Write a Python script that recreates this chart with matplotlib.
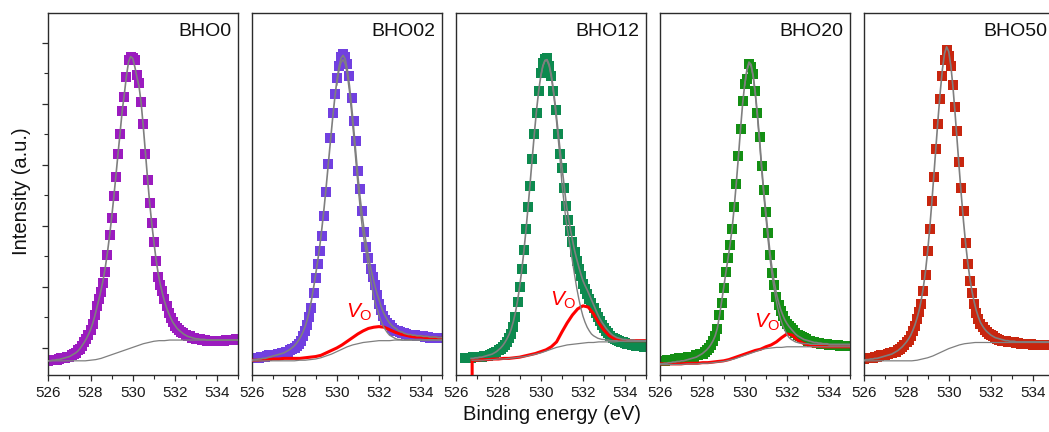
import numpy as np
import matplotlib
matplotlib.use('Agg')
import matplotlib.pyplot as plt
from matplotlib.ticker import MultipleLocator

plt.rcParams['font.family'] = ['Liberation Sans', 'DejaVu Sans']
plt.rcParams['mathtext.fontset'] = 'custom'
plt.rcParams['mathtext.it'] = 'Liberation Sans:italic'
plt.rcParams['mathtext.rm'] = 'Liberation Sans'

nan = float('nan')

# energy axes (eV)
ENERGY = np.round(np.arange(526.0, 535.05, 0.1), 2)      # measured points, 0.1 eV step
FIT_E = np.round(np.arange(526.0, 535.01, 0.25), 2)      # background / Vo component grid
MAIN_E = np.round(np.arange(530.0, 535.05, 0.1), 2)      # main lattice-O component (right part)

SAMPLES = ['BHO0', 'BHO02', 'BHO12', 'BHO20', 'BHO50']
COLORS = ['#9B1BBF', '#7140E0', '#0D8A4F', '#148F14', '#C8260F']

# ---------------- BHO0 ----------------
P1_DATA = [-0.21, -0.20, -0.20, -0.19, -0.19, -0.18, -0.17, -0.16, -0.16, -0.15,
           -0.14, -0.12, -0.10, -0.08, -0.04, -0.01, 0.04, 0.09, 0.15, 0.21,
           0.29, 0.40, 0.54, 0.68, 0.81, 0.91, 1.07, 1.25, 1.52, 1.85,
           2.12, 2.48, 2.80, 3.18, 3.50, 3.88, 4.11, 4.43, 4.71, 4.76,
           4.74, 4.71, 4.47, 4.33, 4.02, 3.66, 3.17, 2.75, 2.37, 2.05,
           1.73, 1.42, 1.17, 1.03, 0.93, 0.80, 0.68, 0.58, 0.49, 0.42,
           0.36, 0.32, 0.29, 0.26, 0.24, 0.21, 0.20, 0.19, 0.17, 0.16,
           0.15, 0.14, 0.14, 0.13, 0.13, 0.12, 0.12, 0.12, 0.12, 0.12,
           0.12, 0.12, 0.12, 0.12, 0.13, 0.13, 0.13, 0.13, 0.13, 0.14,
           0.14]
P1_ENV = [-0.21, -0.21, -0.20, -0.20, -0.19, -0.19, -0.18, -0.17, -0.16, -0.15,
          -0.14, -0.12, -0.10, -0.08, -0.05, -0.01, 0.04, 0.09, 0.15, 0.22,
          0.30, 0.40, 0.52, 0.66, 0.80, 0.95, 1.12, 1.32, 1.56, 1.83,
          2.13, 2.46, 2.81, 3.17, 3.52, 3.88, 4.15, 4.45, 4.68, 4.77,
          4.74, 4.60, 4.43, 4.28, 4.00, 3.62, 3.20, 2.78, 2.38, 2.04,
          1.74, 1.46, 1.23, 1.05, 0.90, 0.77, 0.66, 0.57, 0.49, 0.42,
          0.37, 0.32, 0.29, 0.26, 0.23, 0.21, 0.19, 0.18, 0.17, 0.16,
          0.15, 0.15, 0.14, 0.14, 0.14, 0.13, 0.13, 0.13, 0.13, 0.13,
          0.13, 0.13, 0.13, 0.13, 0.13, 0.13, 0.13, 0.13, 0.13, 0.13,
          0.13]
P1_BG = [-0.21, -0.21, -0.21, -0.21, -0.21, -0.21, -0.21, -0.21,
         -0.20, -0.19, -0.17, -0.14, -0.11, -0.08, -0.05, -0.02, 0.01, 0.04,
         0.07, 0.09, 0.11, 0.12, 0.12, 0.13, 0.13,
         0.13, 0.13, 0.13, 0.13, 0.13, 0.13, 0.13, 0.13, 0.13, 0.13, 0.13, 0.13]

# ---------------- BHO02 ----------------
P2_DATA = [-0.17, -0.17, -0.16, -0.16, -0.15, -0.15, -0.14, -0.13, -0.12, -0.12,
           -0.11, -0.11, -0.10, -0.10, -0.09, -0.08, -0.07, -0.06, -0.04, -0.02,
           0.00, 0.03, 0.07, 0.12, 0.19, 0.27, 0.37, 0.50, 0.66, 0.90,
           1.15, 1.38, 1.59, 1.84, 2.16, 2.56, 3.01, 3.43, 3.84, 4.15,
           4.42, 4.62, 4.76, 4.82, 4.76, 4.65, 4.45, 4.10, 3.72, 3.38,
           2.90, 2.60, 2.25, 1.90, 1.66, 1.47, 1.30, 1.16, 1.03, 0.87,
           0.72, 0.62, 0.53, 0.46, 0.41, 0.37, 0.33, 0.30, 0.28, 0.27,
           0.26, 0.25, 0.24, 0.23, 0.22, 0.22, 0.21, 0.21, 0.20, 0.20,
           0.19, 0.19, 0.18, 0.18, 0.17, 0.17, 0.16, 0.16, 0.16, 0.16,
           0.16]
P2_ENV = [-0.20, -0.19, -0.19, -0.18, -0.18, -0.17, -0.17, -0.16, -0.15, -0.14,
          -0.13, -0.12, -0.11, -0.10, -0.09, -0.08, -0.06, -0.04, -0.02, 0.01,
          0.04, 0.08, 0.13, 0.19, 0.26, 0.35, 0.46, 0.60, 0.78, 0.98,
          1.20, 1.43, 1.68, 1.97, 2.29, 2.64, 3.01, 3.38, 3.74, 4.07,
          4.36, 4.59, 4.74, 4.79, 4.73, 4.56, 4.30, 3.97, 3.60, 3.21,
          2.82, 2.48, 2.18, 1.92, 1.70, 1.50, 1.32, 1.17, 1.03, 0.90,
          0.79, 0.68, 0.59, 0.52, 0.46, 0.41, 0.37, 0.34, 0.32, 0.29,
          0.27, 0.26, 0.24, 0.23, 0.22, 0.22, 0.21, 0.21, 0.20, 0.20,
          0.20, 0.19, 0.19, 0.19, 0.18, 0.18, 0.18, 0.18, 0.17, 0.17,
          0.17]
P2_MAIN = [4.30, 4.53, 4.67, 4.72, 4.65, 4.47, 4.20, 3.86, 3.48, 3.08,
           2.68, 2.32, 2.00, 1.75, 1.55, 1.34, 1.13, 0.93, 0.77, 0.65,
           0.54, 0.44, 0.36, 0.30, 0.25, 0.21, 0.19, 0.17, 0.15, 0.14,
           0.14, 0.13, 0.13, 0.13, 0.13, 0.13, 0.13, 0.13, 0.13, 0.13,
           0.13, 0.13, 0.13, 0.13, 0.13, 0.13, 0.13, 0.13, 0.13, 0.13,
           0.13]
P2_BG = [-0.21, -0.21, -0.21, -0.21, -0.21, -0.21, -0.21, -0.21, -0.21,
         -0.20, -0.20, -0.19, -0.18, -0.16, -0.13, -0.10, -0.06, -0.02, 0.02,
         0.05, 0.07, 0.09, 0.10, 0.11, 0.12,
         0.12, 0.12, 0.13, 0.13, 0.13, 0.13, 0.13, 0.13, 0.13, 0.13, 0.13, 0.13]
P2_VO = [-0.20, -0.20, -0.19, -0.19, -0.18, -0.18, -0.17, -0.17, -0.17, -0.17,
         -0.16, -0.15, -0.14, -0.12, -0.08, -0.04, 0.00, 0.05, 0.11, 0.17,
         0.23, 0.28, 0.32, 0.34, 0.35, 0.34, 0.30, 0.26, 0.23, 0.21,
         0.19, 0.18, 0.18, 0.17, 0.17, 0.16, 0.16]

# ---------------- BHO12 ----------------
P3_DATA = [nan, nan, nan, nan, -0.17, -0.17, -0.16, -0.16, -0.15, -0.15,
           -0.14, -0.14, -0.14, -0.13, -0.13, -0.13, -0.12, -0.10, -0.08, -0.06,
           -0.04, -0.01, 0.02, 0.05, 0.10, 0.16, 0.23, 0.34, 0.50, 0.75,
           1.00, 1.30, 1.60, 1.95, 2.30, 2.65, 3.10, 3.50, 3.85, 4.20,
           4.50, 4.67, 4.73, 4.74, 4.62, 4.45, 4.20, 3.90, 3.50, 3.18,
           2.95, 2.62, 2.32, 2.10, 1.92, 1.74, 1.57, 1.43, 1.30, 1.18,
           1.05, 0.97, 0.89, 0.81, 0.73, 0.65, 0.58, 0.51, 0.44, 0.38,
           0.33, 0.28, 0.24, 0.20, 0.17, 0.15, 0.13, 0.11, 0.10, 0.09,
           0.08, 0.07, 0.06, 0.05, 0.05, 0.04, 0.04, 0.03, 0.03, 0.02,
           0.02]
P3_ENV = [nan, nan, nan, nan, nan, nan, nan, -0.17, -0.17, -0.16,
          -0.16, -0.15, -0.15, -0.14, -0.13, -0.12, -0.11, -0.10, -0.08, -0.06,
          -0.03, 0.00, 0.04, 0.09, 0.15, 0.22, 0.31, 0.43, 0.58, 0.77,
          1.00, 1.27, 1.58, 1.93, 2.31, 2.71, 3.12, 3.52, 3.89, 4.20,
          4.45, 4.62, 4.71, 4.72, 4.64, 4.47, 4.23, 3.94, 3.61, 3.29,
          2.98, 2.68, 2.38, 2.15, 1.95, 1.77, 1.60, 1.46, 1.33, 1.21,
          1.10, 1.02, 0.95, 0.87, 0.79, 0.71, 0.63, 0.55, 0.48, 0.42,
          0.37, 0.32, 0.28, 0.24, 0.21, 0.19, 0.17, 0.16, 0.15, 0.14,
          0.14, 0.13, 0.13, 0.13, 0.13, 0.12, 0.12, 0.12, 0.12, 0.12,
          0.12]
P3_MAIN = [4.44, 4.61, 4.70, 4.70, 4.61, 4.43, 4.18, 3.87, 3.52, 3.16,
           2.70, 2.38, 2.08, 1.86, 1.64, 1.42, 1.20, 0.99, 0.81, 0.65,
           0.52, 0.42, 0.34, 0.28, 0.23, 0.20, 0.18, 0.16, 0.15, 0.14,
           0.14, 0.13, 0.13, 0.12, 0.12, 0.12, 0.12, 0.11, 0.11, 0.11,
           0.11, 0.11, 0.11, 0.11, 0.11, 0.11, 0.11, 0.11, 0.11, 0.11,
           0.11]
P3_BG = [nan, nan, nan,
         -0.20, -0.20, -0.20, -0.19, -0.19, -0.18, -0.18, -0.17, -0.16, -0.15,
         -0.14, -0.12, -0.10, -0.08, -0.05, -0.02, 0.01, 0.03, 0.05, 0.06,
         0.07, 0.08, 0.09, 0.09, 0.10, 0.10, 0.10, 0.10, 0.11, 0.11,
         0.11, 0.11, 0.11, 0.11]
# the Vo curve of this sample starts with a drop at its first energy
P3_VO_E = [526.75, 526.75, 527.0, 527.25, 527.5, 527.75, 528.0, 528.25, 528.5, 528.75,
           529.0, 529.25, 529.5, 529.75, 530.0, 530.25, 530.5, 530.75, 531.0, 531.25,
           531.5, 531.75, 532.0, 532.25, 532.5, 532.75, 533.0, 533.25, 533.5, 533.75,
           534.0, 534.25, 534.5, 534.75, 535.0]
P3_VO = [-0.60, -0.20, -0.20, -0.19, -0.19, -0.18, -0.18, -0.17, -0.17, -0.16,
         -0.15, -0.13, -0.11, -0.09, -0.06, -0.03, 0.02, 0.10, 0.26, 0.41,
         0.54, 0.64, 0.69, 0.67, 0.56, 0.41, 0.29, 0.20, 0.15, 0.13,
         0.12, 0.12, 0.12, 0.12, 0.12]

# ---------------- BHO20 ----------------
P4_DATA = [-0.22, -0.21, -0.21, -0.20, -0.20, -0.19, -0.19, -0.18, -0.18, -0.17,
           -0.17, -0.16, -0.16, -0.15, -0.15, -0.14, -0.14, -0.12, -0.11, -0.10,
           -0.10, -0.06, -0.03, 0.00, 0.05, 0.11, 0.20, 0.31, 0.54, 0.74,
           0.98, 1.25, 1.48, 1.68, 1.95, 2.30, 2.68, 3.15, 3.58, 4.05,
           4.32, 4.41, 4.65, 4.60, 4.48, 4.20, 3.85, 3.45, 2.98, 2.58,
           2.22, 1.88, 1.53, 1.22, 1.03, 0.84, 0.70, 0.60, 0.52, 0.45,
           0.40, 0.36, 0.33, 0.29, 0.25, 0.22, 0.20, 0.18, 0.16, 0.14,
           0.12, 0.11, 0.10, 0.09, 0.08, 0.08, 0.07, 0.07, 0.06, 0.06,
           0.05, 0.05, 0.05, 0.05, 0.05, 0.04, 0.04, 0.04, 0.04, 0.04,
           0.04]
P4_ENV = [-0.26, -0.26, -0.25, -0.25, -0.24, -0.24, -0.23, -0.23, -0.22, -0.22,
          -0.21, -0.21, -0.20, -0.19, -0.18, -0.17, -0.16, -0.15, -0.13, -0.11,
          -0.09, -0.06, -0.03, 0.01, 0.06, 0.12, 0.20, 0.32, 0.52, 0.75,
          0.98, 1.22, 1.45, 1.68, 1.95, 2.30, 2.70, 3.13, 3.58, 4.00,
          4.32, 4.55, 4.68, 4.64, 4.46, 4.18, 3.83, 3.43, 2.98, 2.57,
          2.23, 1.88, 1.55, 1.28, 1.07, 0.89, 0.75, 0.63, 0.54, 0.46,
          0.40, 0.35, 0.31, 0.27, 0.23, 0.20, 0.18, 0.16, 0.14, 0.13,
          0.12, 0.11, 0.10, 0.09, 0.09, 0.08, 0.08, 0.07, 0.07, 0.07,
          0.06, 0.06, 0.06, 0.06, 0.06, 0.06, 0.06, 0.06, 0.06, 0.06,
          0.06]
P4_MAIN = [4.30, 4.53, 4.66, 4.61, 4.43, 4.14, 3.78, 3.37, 2.92, 2.50,
           2.14, 1.78, 1.45, 1.17, 0.95, 0.76, 0.60, 0.47, 0.37, 0.29,
           0.22, 0.17, 0.14, 0.12, 0.10, 0.09, 0.08, 0.08, 0.07, 0.07,
           0.07, 0.06, 0.06, 0.06, 0.06, 0.06, 0.06, 0.06, 0.06, 0.06,
           0.05, 0.05, 0.05, 0.05, 0.05, 0.05, 0.05, 0.05, 0.05, 0.05,
           0.05]
P4_BG = [-0.27, -0.27, -0.27, -0.27, -0.27, -0.26, -0.26, -0.26, -0.25, -0.25,
         -0.24, -0.23, -0.22, -0.20, -0.18, -0.15, -0.12, -0.09, -0.06, -0.03,
         -0.01, 0.00, 0.01, 0.01, 0.02, 0.02, 0.02, 0.02, 0.02, 0.02,
         0.02, 0.02, 0.02, 0.02, 0.02, 0.02, 0.02]
P4_VO = [-0.26, -0.26, -0.26, -0.26, -0.26, -0.25, -0.25, -0.25, -0.24, -0.24,
         -0.23, -0.22, -0.21, -0.19, -0.16, -0.13, -0.10, -0.07, -0.04, -0.02,
         0.02, 0.05, 0.10, 0.17, 0.23, 0.21, 0.13, 0.08, 0.05, 0.03,
         0.03, 0.02, 0.02, 0.02, 0.02, 0.02, 0.02]

# ---------------- BHO50 ----------------
P5_DATA = [-0.18, -0.17, -0.17, -0.16, -0.16, -0.15, -0.14, -0.13, -0.12, -0.11,
           -0.11, -0.10, -0.09, -0.08, -0.07, -0.06, -0.03, -0.01, 0.02, 0.05,
           0.09, 0.13, 0.19, 0.27, 0.36, 0.47, 0.59, 0.72, 0.94, 1.20,
           1.58, 1.95, 2.40, 2.80, 3.25, 3.66, 4.08, 4.45, 4.72, 4.88,
           4.78, 4.62, 4.30, 3.95, 3.55, 3.05, 2.62, 2.25, 1.72, 1.37,
           1.09, 0.90, 0.72, 0.58, 0.48, 0.40, 0.34, 0.30, 0.26, 0.23,
           0.21, 0.19, 0.17, 0.15, 0.13, 0.12, 0.11, 0.11, 0.10, 0.10,
           0.09, 0.09, 0.08, 0.08, 0.07, 0.07, 0.07, 0.06, 0.06, 0.06,
           0.05, 0.05, 0.05, 0.05, 0.05, 0.05, 0.05, 0.05, 0.05, 0.05,
           0.05]
P5_ENV = [-0.20, -0.19, -0.19, -0.18, -0.18, -0.17, -0.17, -0.16, -0.15, -0.14,
          -0.13, -0.12, -0.11, -0.10, -0.08, -0.06, -0.04, -0.01, 0.02, 0.06,
          0.10, 0.15, 0.21, 0.29, 0.38, 0.49, 0.62, 0.79, 1.00, 1.26,
          1.58, 1.96, 2.39, 2.85, 3.32, 3.78, 4.20, 4.56, 4.82, 4.93,
          4.85, 4.62, 4.27, 3.84, 3.38, 2.92, 2.48, 2.07, 1.71, 1.40,
          1.14, 0.93, 0.76, 0.62, 0.51, 0.42, 0.36, 0.31, 0.27, 0.24,
          0.21, 0.19, 0.17, 0.16, 0.15, 0.14, 0.13, 0.12, 0.12, 0.11,
          0.11, 0.11, 0.10, 0.10, 0.10, 0.10, 0.10, 0.10, 0.10, 0.10,
          0.10, 0.10, 0.10, 0.10, 0.10, 0.10, 0.10, 0.10, 0.10, 0.10,
          0.10]
P5_BG = [-0.21, -0.21, -0.21, -0.21, -0.21, -0.21, -0.21, -0.21, -0.21, -0.21,
         -0.20, -0.18, -0.16, -0.13, -0.09, -0.05, -0.01, 0.02, 0.05, 0.07,
         0.08, 0.09, 0.09, 0.09, 0.09,
         0.09, 0.09, 0.09, 0.09, 0.09, 0.09, 0.09, 0.09, 0.09, 0.09, 0.09, 0.09]

DATA = [P1_DATA, P2_DATA, P3_DATA, P4_DATA, P5_DATA]
ENV = [P1_ENV, P2_ENV, P3_ENV, P4_ENV, P5_ENV]
BG = [P1_BG, P2_BG, P3_BG, P4_BG, P5_BG]
MAIN = [None, P2_MAIN, P3_MAIN, P4_MAIN, None]
VO = [None, (FIT_E, P2_VO), (P3_VO_E, P3_VO), (FIT_E, P4_VO), None]
VO_LABEL_Y = [None, 0.49, 0.70, 0.33, None]

# ---------------- figure ----------------
W, H = 1049, 432
fig = plt.figure(figsize=(W / 100, H / 100), dpi=100)
GRAY = '#7F7F7F'
SPINE = '#2B2B2B'

for i in range(5):
    left_px = 48.3 + 204.0 * i
    ax = fig.add_axes([left_px / W, 57.0 / H, 190.0 / W, 362.3 / H])
    ax.plot(ENERGY, DATA[i], linestyle='none', marker='s', ms=6.6, mew=0,
            color=COLORS[i], zorder=2)
    if VO[i] is not None:
        ve, vv = VO[i]
        ax.plot(ve, vv, color='#FF0000', lw=2.2, zorder=3, solid_joinstyle='round')
    ax.plot(FIT_E, BG[i], color=GRAY, lw=0.9, zorder=4)
    if MAIN[i] is not None:
        ax.plot(MAIN_E, MAIN[i], color=GRAY, lw=1.0, zorder=4)
    ax.plot(ENERGY, ENV[i], color=GRAY, lw=1.2, zorder=5)
    if VO_LABEL_Y[i] is not None:
        ax.text(530.46, VO_LABEL_Y[i], r'$V_{\mathrm{O}}$', color='#FF0000',
                fontsize=15, ha='left', va='baseline', zorder=6)
    ax.text(0.962, 0.936, SAMPLES[i], transform=ax.transAxes, ha='right',
            va='baseline', fontsize=14, color='#111111')

    ax.set_xlim(526, 535)
    ax.set_ylim(-0.442, 5.488)
    ax.xaxis.set_major_locator(MultipleLocator(2))
    ax.xaxis.set_minor_locator(MultipleLocator(1))
    ax.tick_params(axis='x', which='major', direction='out', length=4.5, width=0.9,
                   pad=3.5, labelsize=11, color=SPINE, labelcolor='#1A1A1A')
    ax.tick_params(axis='x', which='minor', direction='out', length=2.6, width=0.8,
                   color=SPINE)
    if i == 0:
        ax.yaxis.set_major_locator(MultipleLocator(1))
        ax.yaxis.set_minor_locator(MultipleLocator(0.5))
        ax.tick_params(axis='y', which='major', direction='out', length=4.5,
                       width=0.9, color=SPINE, labelleft=False)
        ax.tick_params(axis='y', which='minor', direction='out', length=2.6,
                       width=0.8, color=SPINE)
    else:
        ax.set_yticks([])
        ax.yaxis.set_minor_locator(matplotlib.ticker.NullLocator())
    for s in ax.spines.values():
        s.set_color(SPINE)
        s.set_linewidth(1.0)

fig.text(551.7 / W, 1 - 420.5 / H, 'Binding energy (eV)', ha='center', va='baseline',
         fontsize=14.5, color='#111111')
fig.text(22.0 / W, 1 - 190.8 / H, 'Intensity (a.u.)', rotation=90, ha='center',
         va='center', fontsize=14.5, color='#111111')

fig.savefig('out.png', dpi=100)
